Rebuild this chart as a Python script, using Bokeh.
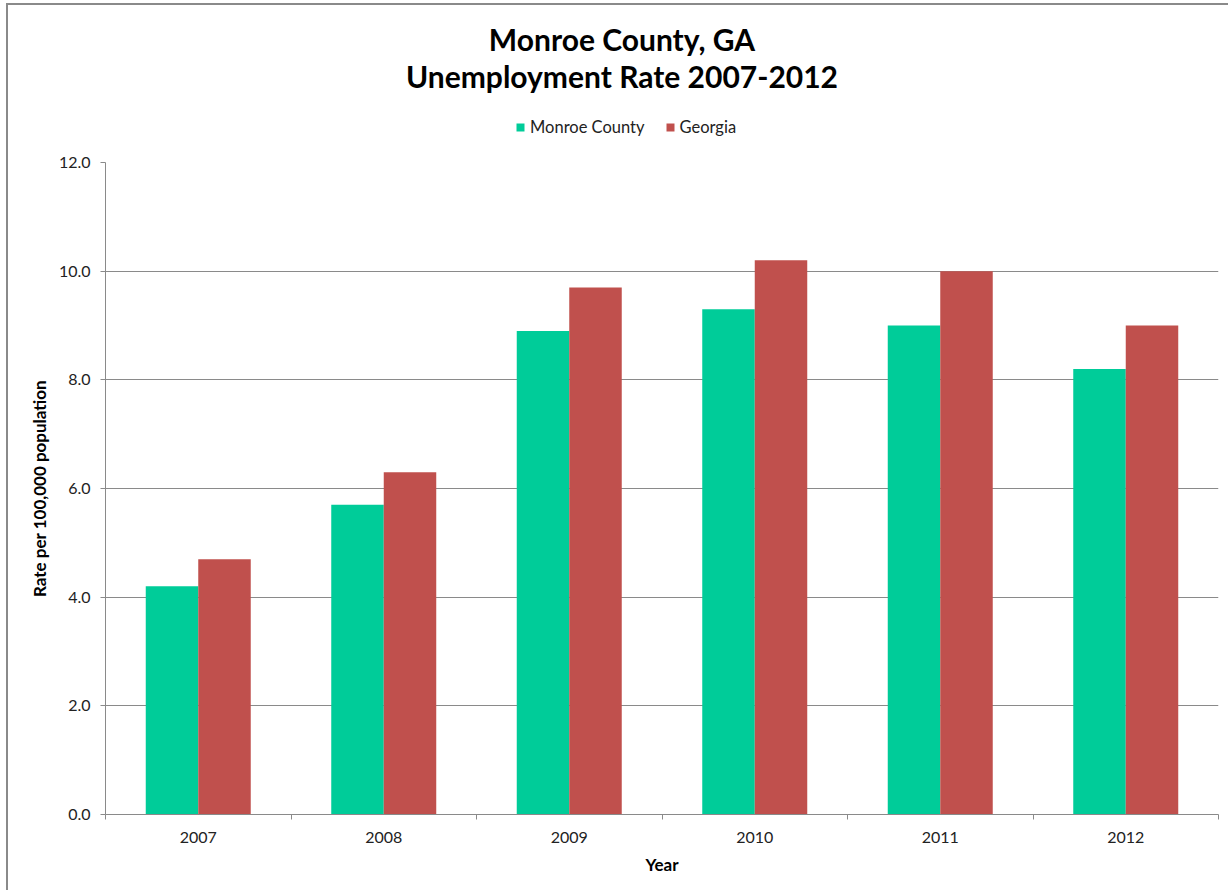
from bokeh.plotting import figure
from bokeh.layouts import column
from bokeh.models import (Range1d, FixedTicker, NumeralTickFormatter, Legend, LegendItem,
                          Label, ColumnDataSource)
from bokeh.transform import dodge
from bokeh.embed import file_html
from bokeh.resources import INLINE

title_lines = ["Monroe County, GA", "Unemployment Rate 2007-2012"]
series_names = ["Monroe County", "Georgia"]
years = ["2007", "2008", "2009", "2010", "2011", "2012"]
monroe = [4.2, 5.7, 8.9, 9.3, 9.0, 8.2]
georgia = [4.7, 6.3, 9.7, 10.2, 10.0, 9.0]
y_ticks = [0, 2, 4, 6, 8, 10, 12]

GREEN = "#00CC99"
RED = "#C0504D"
FONT = "Lato"
BL, BR = 97, 10
FW, FH = 1113, 652
TOP_H = 142

centers = [i + 0.5 for i in range(len(years))]
src = ColumnDataSource(dict(x=centers, monroe=monroe, georgia=georgia))
off = 0.1415
w = 0.283

# ---------------- header (title + legend) ----------------
top = figure(frame_width=FW, frame_height=TOP_H, output_backend="svg", toolbar_location=None,
             x_range=Range1d(0, FW), y_range=Range1d(TOP_H, 0), title=None,
             min_border_left=BL, min_border_right=BR, min_border_top=0, min_border_bottom=0,
             x_axis_location=None, y_axis_location=None)
top.grid.visible = False
top.outline_line_color = None
top.background_fill_color = "white"
top.border_fill_color = "white"

for line, yb in zip(title_lines, [33, 70]):
    top.add_layout(Label(x=516.5, y=yb, text=line, text_align="center",
                         text_baseline="alphabetic", text_font=FONT, text_font_size="30px",
                         text_font_style="bold", text_color="#000000"))

# legend proxies (hidden; only used for legend swatches)
g1 = top.vbar(x="x", top="monroe", width=w, source=src, fill_color=GREEN, line_color=None, visible=False)
g2 = top.vbar(x="x", top="georgia", width=w, source=src, fill_color=RED, line_color=None, visible=False)
legend = Legend(items=[LegendItem(label=series_names[0], renderers=[g1]),
                       LegendItem(label=series_names[1], renderers=[g2])],
                orientation="horizontal", location=(410, 10),
                glyph_width=10, glyph_height=10, label_standoff=5, spacing=20,
                label_text_font=FONT, label_text_font_size="16.5px", label_text_color="#222222",
                label_text_baseline="middle", inactive_fill_alpha=0,
                border_line_color=None, background_fill_alpha=0, padding=0, margin=0)
top.add_layout(legend, "center")

# ---------------- main chart ----------------
p = figure(frame_width=FW, frame_height=FH, output_backend="svg", toolbar_location=None,
           x_range=Range1d(0, len(years)), y_range=Range1d(0, 12), title=None,
           min_border_left=BL, min_border_right=BR, min_border_bottom=76, min_border_top=15)
p.outline_line_color = None
p.background_fill_color = "white"
p.border_fill_color = "white"

r1 = p.vbar(x=dodge("x", -off), top="monroe", width=w, source=src, fill_color=GREEN, line_color=None)
r2 = p.vbar(x=dodge("x", off), top="georgia", width=w, source=src, fill_color=RED, line_color=None)

# x axis
p.xaxis.ticker = FixedTicker(ticks=centers, minor_ticks=list(range(len(years) + 1)))
p.xaxis.major_label_overrides = {c: y for c, y in zip(centers, years)}
p.xaxis.major_tick_out = 0
p.xaxis.major_tick_in = 0
p.xaxis.minor_tick_out = 5
p.xaxis.minor_tick_in = 0
p.xaxis.minor_tick_line_color = "#8a8a8a"
p.xaxis.axis_line_color = "#8a8a8a"
p.xaxis.major_label_standoff = 12
p.xaxis.axis_label = "Year"
p.xaxis.axis_label_standoff = 8
p.xgrid.grid_line_color = None

# y axis
p.yaxis.ticker = FixedTicker(ticks=y_ticks, minor_ticks=[])
p.yaxis.formatter = NumeralTickFormatter(format="0.0")
p.yaxis.major_tick_out = 5
p.yaxis.major_tick_in = 0
p.yaxis.major_tick_line_color = "#8a8a8a"
p.yaxis.axis_line_color = "#8a8a8a"
p.yaxis.major_label_standoff = 10
p.yaxis.axis_label = "Rate per 100,000 population"
p.yaxis.axis_label_standoff = 6
p.ygrid.grid_line_color = "#8a8a8a"
p.ygrid.ticker = FixedTicker(ticks=y_ticks)

for ax in (p.xaxis, p.yaxis):
    ax.major_label_text_font = FONT
    ax.major_label_text_font_size = "16px"
    ax.major_label_text_color = "#222222"
    ax.axis_label_text_font = FONT
    ax.axis_label_text_font_size = "17px"
    ax.axis_label_text_font_style = "bold"
    ax.axis_label_text_color = "#000000"

layout = column(top, p, spacing=0)
layout.margin = (3, 0, 0, 6)
layout.styles = {"border-left": "2px solid #8a8a8a", "border-top": "2px solid #8a8a8a"}

open("out.html", "w").write(file_html(layout, INLINE))
